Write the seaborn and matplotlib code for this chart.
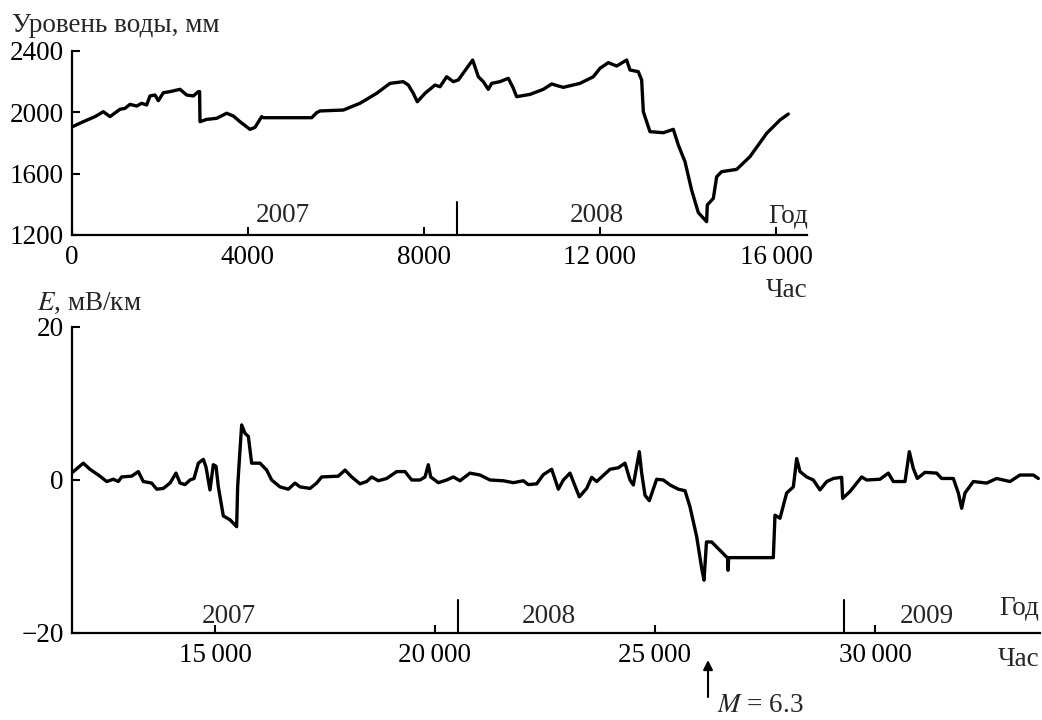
import numpy as np
import pandas as pd
import matplotlib
matplotlib.use("Agg")
import matplotlib.pyplot as plt
import seaborn as sns

# ---------------- data ----------------
level_hours = [0, 257, 523, 712, 864, 1091, 1205, 1318, 1470, 1583, 1697, 1773, 1886, 1962,
               2076, 2227, 2455, 2606, 2758, 2871, 2900, 2909, 3061, 3288, 3515, 3667, 3818,
               4045, 4159, 4311, 4350, 5447, 5561, 5636, 6167, 6545, 6924, 7227, 7530, 7644,
               7757, 7848, 8023, 8250, 8364, 8515, 8667, 8780, 8970, 9106, 9235, 9348, 9462,
               9538, 9727, 9917, 10030, 10106, 10409, 10712, 10902, 11052, 11167, 11545,
               11848, 12000, 12189, 12379, 12606, 12682, 12871, 12947, 12985, 13136, 13439,
               13667, 13780, 13932, 14083, 14235, 14424, 14439, 14576, 14652, 14765, 15106,
               15409, 15788, 16091, 16280]
level_mm = [1905, 1939, 1972, 2004, 1972, 2020, 2026, 2052, 2041, 2059, 2048, 2107, 2113, 2076,
            2128, 2135, 2150, 2113, 2107, 2135, 2135, 1939, 1954, 1961, 1994, 1976, 1939,
            1889, 1902, 1972, 1965, 1965, 1998, 2009, 2015, 2059, 2124, 2189, 2200, 2178,
            2124, 2069, 2124, 2178, 2167, 2232, 2200, 2211, 2287, 2341, 2232, 2200, 2150,
            2189, 2200, 2222, 2157, 2102, 2117, 2150, 2185, 2172, 2163, 2189,
            2232, 2287, 2324, 2302, 2341, 2276, 2265, 2211, 2004, 1874, 1867,
            1889, 1787, 1678, 1493, 1346, 1287, 1396, 1439, 1580, 1613, 1628,
            1711, 1863, 1950, 1989]

field_hours = [11760, 12007, 12159, 12386, 12539, 12690, 12802, 12879, 13106, 13257, 13370,
               13561, 13675, 13826, 13977, 14114, 14205, 14318, 14432, 14523, 14621, 14735,
               14795, 14886, 14962, 15023, 15076, 15189, 15341, 15492, 15515, 15553, 15606,
               15682, 15758, 15833, 16023, 16174, 16288, 16477, 16667, 16818, 16932, 17159,
               17311, 17424, 17803, 17955, 18106, 18295, 18447, 18561, 18712, 18902, 19129,
               19318, 19470, 19659, 19773, 19848, 19902, 20076, 20265, 20417, 20568, 20795,
               21023, 21250, 21553, 21780, 22008, 22121, 22311, 22462, 22652, 22803, 22917,
               23068, 23280, 23447, 23561, 23674, 23977, 24167, 24318, 24432, 24508, 24598,
               24644, 24697, 24773, 24871, 25038, 25189, 25341, 25530, 25682, 25795, 25947,
               26060, 26114, 26170, 26288, 26650, 26660, 26675, 27689, 27727, 27841, 27992,
               28144, 28220, 28295, 28447, 28598, 28750, 28902, 29053, 29242, 29265, 29432,
               29697, 29811, 30114, 30303, 30417, 30682, 30780, 30871, 30962, 31136, 31402,
               31515, 31780, 31894, 31970, 32045, 32235, 32538, 32765, 33068, 33295, 33598,
               33712]
field_mv = [1.0, 2.2, 1.4, 0.5, -0.2, 0.1, -0.2, 0.4, 0.5, 1.1, -0.2,
            -0.4, -1.2, -1.1, -0.4, 0.9, -0.4, -0.6, 0.0, 0.2, 2.2, 2.7,
            1.7, -1.3, 2.0, 1.8, -0.9, -4.7, -5.2, -6.1, -0.9, 2.6, 7.2,
            6.1, 5.7, 2.2, 2.2, 1.3, 0.0, -0.9, -1.2, -0.4, -0.9, -1.1,
            -0.4, 0.4, 0.5, 1.3, 0.4, -0.5, -0.2, 0.4, -0.1, 0.2, 1.1,
            1.1, 0.0, 0.0, 0.4, 2.0, 0.4, -0.35, 0.0, 0.4, -0.1, 0.9,
            0.65, 0.0, -0.1, -0.35, -0.1, -0.6, -0.5, 0.7, 1.4, -1.2, 0.0,
            0.9, -2.2, -1.1, 0.35, -0.2, 1.4, 1.6, 2.2, 0.0, -0.65, 2.2,
            3.7, 0.9, -2.0, -2.7, 0.1, 0.0, -0.65, -1.2, -1.4, -3.5, -7.4,
            -11.5, -13.1, -8.1, -8.1, -10.2, -11.8, -10.15, -10.15, -4.6, -5.0, -1.7,
            -0.9, 2.8, 1.1, 0.4, 0.0, -1.3, -0.2, 0.2, 0.35, -2.4, -1.5,
            0.4, 0.0, 0.1, 0.9, -0.2, -0.2, 3.7, 1.5, 0.2, 1.0, 0.9,
            0.2, 0.2, -1.7, -3.7, -1.7, -0.2, -0.4, 0.2, -0.2, 0.65, 0.65,
            0.2]

top_xticks = [0, 4000, 8000, 12000, 16000]
top_xticklabels = ["0", "4000", "8000", "12\u2009000", "16\u2009000"]
top_yticks = [1200, 1600, 2000, 2400]
bot_xticks = [15000, 20000, 25000, 30000]
bot_xticklabels = ["15\u2009000", "20\u2009000", "25\u2009000", "30\u2009000"]
bot_yticks = [-20, 0, 20]
bot_yticklabels = ["\u221220", "0", "20"]

top_year_bounds = [8760]
top_year_labels = {"2007": 4795, "2008": 11932}
bot_year_bounds = [20523, 29295]
bot_year_labels = {"2007": 15318, "2008": 22591, "2009": 31182}
quake_hour = 26205

# ---------------- style ----------------
sns.set_style("ticks")
plt.rcParams["font.family"] = ["Liberation Serif", "DejaVu Serif"]
plt.rcParams["mathtext.fontset"] = "stix"
FS = 19.5

W, H = 1042, 720
fig = plt.figure(figsize=(W / 100, H / 100), dpi=100)

# axes rectangles from pixel geometry
def rect(l, r, t, b):
    return [l / W, 1 - b / H, (r - l) / W, (b - t) / H]

ax1 = fig.add_axes(rect(72, 807, 51, 235))
ax2 = fig.add_axes(rect(72, 1040, 327, 633))

df1 = pd.DataFrame({"hour": level_hours, "level": level_mm})
df2 = pd.DataFrame({"hour": field_hours, "E": field_mv})
sns.lineplot(data=df1, x="hour", y="level", ax=ax1, color="black", lw=2.4,
             estimator=None, sort=False)
sns.lineplot(data=df2, x="hour", y="E", ax=ax2, color="black", lw=2.4,
             estimator=None, sort=False)

for ax in (ax1, ax2):
    ax.spines["top"].set_visible(False)
    ax.spines["right"].set_visible(False)
    for s in ("left", "bottom"):
        ax.spines[s].set_linewidth(1.6)
        ax.spines[s].set_color("black")
    ax.set_xlabel("")
    ax.set_ylabel("")
    ax.tick_params(direction="in", length=6, width=1.5, colors="black",
                   labelsize=FS)
    ax.tick_params(axis="x", pad=7)
    ax.tick_params(axis="y", pad=6)

ax1.set_xlim(0, 16705)
ax1.set_ylim(1200, 2400)
ax1.set_xticks(top_xticks)
ax1.set_xticklabels(top_xticklabels)
ax1.set_yticks(top_yticks)

ax2.set_xlim(11750, 33750)
ax2.set_ylim(-20, 20)
ax2.set_xticks(bot_xticks)
ax2.set_xticklabels(bot_xticklabels)
ax2.set_yticks(bot_yticks)
ax2.set_yticklabels(bot_yticklabels)

# year separators (tall inward ticks)
for xb in top_year_bounds:
    ax1.axvline(xb, ymin=0, ymax=33 / 184, color="black", lw=1.5)
for xb in bot_year_bounds:
    ax2.axvline(xb, ymin=0, ymax=33 / 306, color="black", lw=1.5)

tr1 = ax1.get_xaxis_transform()
tr2 = ax2.get_xaxis_transform()
for lab, xh in top_year_labels.items():
    ax1.text(xh, (235 - 222) / 184, lab, transform=tr1, ha="center",
             va="baseline", fontsize=FS)
for lab, xh in bot_year_labels.items():
    ax2.text(xh, (633 - 623) / 306, lab, transform=tr2, ha="center",
             va="baseline", fontsize=FS)

# unit labels
fig.text(808 / W, 1 - 222 / H, "Год", ha="right", va="baseline", fontsize=FS)
fig.text(807 / W, 1 - 297 / H, "Час", ha="right", va="baseline", fontsize=FS)
fig.text(1039 / W, 1 - 615 / H, "Год", ha="right", va="baseline", fontsize=FS)
fig.text(1039 / W, 1 - 666 / H, "Час", ha="right", va="baseline", fontsize=FS)
fig.text(12 / W, 1 - 32 / H, "Уровень воды, мм", ha="left", va="baseline",
         fontsize=FS)
fig.text(37 / W, 1 - 310 / H, "$E$, мВ/км", ha="left", va="baseline",
         fontsize=FS)

# earthquake arrow
ax2.annotate("", xy=(quake_hour, (633 - 660) / 306),
             xytext=(quake_hour, (633 - 697) / 306),
             xycoords=tr2, textcoords=tr2, annotation_clip=False,
             arrowprops=dict(arrowstyle="-|>", color="black", lw=1.5,
                             mutation_scale=14, shrinkA=0, shrinkB=0))
ax2.text(quake_hour + 200, (633 - 712) / 306, "$M$ = 6.3", transform=tr2,
         ha="left", va="baseline", fontsize=FS, clip_on=False)

fig.savefig("out.png", dpi=100)
